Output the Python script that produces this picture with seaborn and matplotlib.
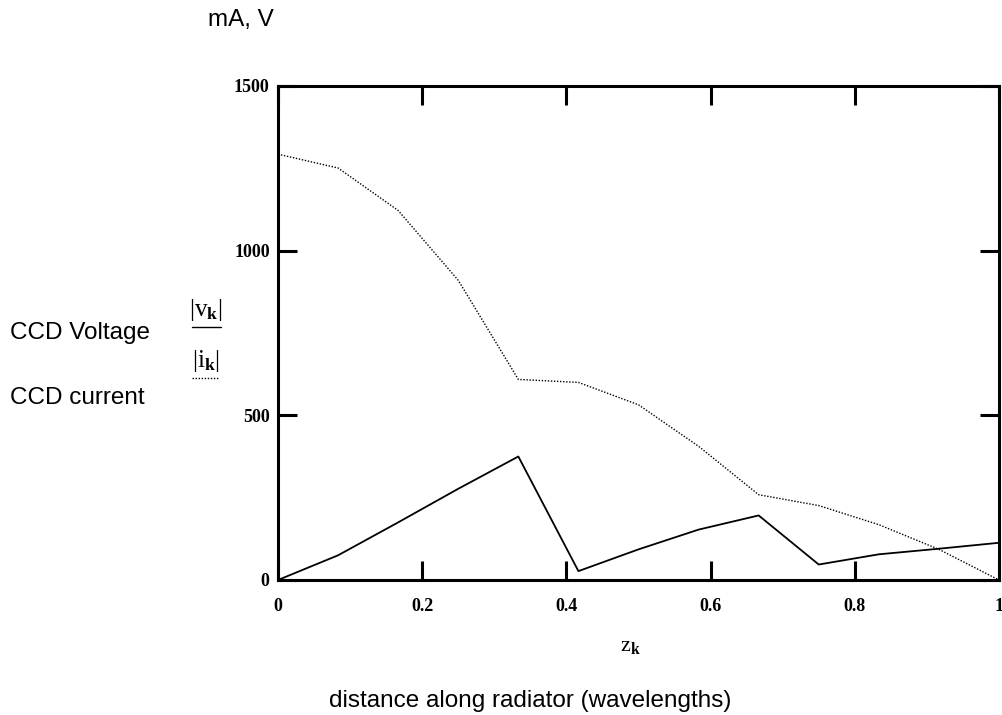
import numpy as np
import pandas as pd
import seaborn as sns
import matplotlib
matplotlib.use("Agg")
import matplotlib.pyplot as plt

# data
z_k = [0, 1/12, 2/12, 3/12, 4/12, 5/12, 6/12, 7/12, 8/12, 9/12, 10/12, 11/12, 1]
voltage = [0, 75, 175, 277, 375, 27, 93, 153, 196, 47, 78, 95, 113]
current = [1293, 1251, 1122, 910, 609, 600, 532, 406, 259, 226, 168, 93, 0]
x_ticks = [0, 0.2, 0.4, 0.6, 0.8, 1]
x_tick_labels = ["0", "0.2", "0.4", "0.6", "0.8", "1"]
y_ticks = [0, 500, 1000, 1500]
y_tick_labels = ["0", "500", "1000", "1500"]

sns.set_style("ticks")
plt.rcParams['font.family'] = ['Liberation Sans', 'DejaVu Sans']
plt.rcParams['text.color'] = 'black'
plt.rcParams['xtick.color'] = 'black'
plt.rcParams['ytick.color'] = 'black'
plt.rcParams['mathtext.fontset'] = 'custom'
plt.rcParams['mathtext.rm'] = 'Liberation Serif'
plt.rcParams['mathtext.bf'] = 'Liberation Serif:bold'
plt.rcParams['mathtext.it'] = 'Liberation Serif:italic'

df = pd.DataFrame({"z": z_k * 2,
                   "val": voltage + current,
                   "series": ["v"] * len(z_k) + ["i"] * len(z_k)})

W, H = 1002, 715
fig = plt.figure(figsize=(W / 100, H / 100), dpi=100)
ax = fig.add_axes([278/W, 1 - 580/H, (999 - 278)/W, (580 - 86)/H])

sns.lineplot(data=df[df.series == "v"], x="z", y="val", ax=ax, color="black",
             linewidth=1.3, legend=False)
sns.lineplot(data=df[df.series == "i"], x="z", y="val", ax=ax, color="black",
             linewidth=1.0, linestyle=(0, (1, 1.2)), legend=False)

ax.set_xlim(0, 1)
ax.set_ylim(0, 1500)
ax.set_xticks(x_ticks)
ax.set_xticklabels(x_tick_labels)
ax.set_yticks(y_ticks)
ax.set_yticklabels(y_tick_labels)
ax.set_xlabel("")
ax.set_ylabel("")
for s in ax.spines.values():
    s.set_linewidth(2.2)
    s.set_color("black")
ax.tick_params(direction="in", length=14, width=2.2, top=True, right=True,
               labelsize=13)
ax.tick_params(axis="x", pad=13)
ax.tick_params(axis="y", pad=6)
for lab in ax.get_xticklabels() + ax.get_yticklabels():
    lab.set_family("Liberation Serif")
    lab.set_fontweight("bold")


def px(x, y):
    return x / W, 1 - y / H


# texts
fig.text(*px(208, 20), "mA, V", fontsize=17.5, va="center", ha="left")
fig.text(*px(10, 333), "CCD Voltage", fontsize=17.5, va="center", ha="left")
fig.text(*px(10, 398), "CCD current", fontsize=17.5, va="center", ha="left")
fig.text(*px(206, 310), r"$|\mathrm{v}_{\mathbf{k}}|$", fontsize=18, va="center",
         ha="center")
fig.text(*px(206, 361), r"$|\mathrm{i}_{\mathbf{k}}|$", fontsize=18, va="center",
         ha="center")
fig.add_artist(plt.Line2D([px(192, 0)[0], px(221, 0)[0]], [px(0, 327)[1]] * 2,
                          color="black", lw=1.0))
fig.add_artist(plt.Line2D([px(192, 0)[0], px(219, 0)[0]], [px(0, 378)[1]] * 2,
                          color="black", lw=1.0, linestyle=(0, (1, 1.2))))
fig.text(*px(630, 646), r"$\mathrm{z}_{\mathbf{k}}$", fontsize=16, va="center",
         ha="center")
fig.text(*px(530, 701), "distance along radiator (wavelengths)",
         fontsize=17.5, va="center", ha="center")

fig.savefig("out.png", dpi=100)
